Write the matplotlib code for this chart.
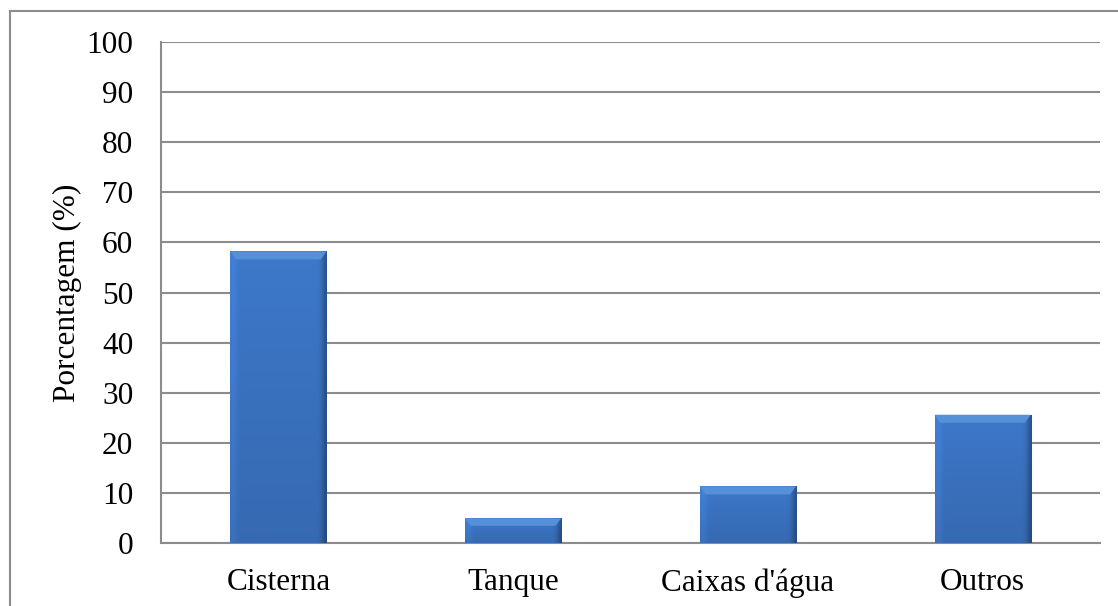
import numpy as np
import matplotlib.pyplot as plt
from matplotlib.patches import Rectangle

categories = ["Cisterna", "Tanque", "Caixas d'água", "Outros"]
values = [58.2, 4.9, 11.3, 25.6]
yticks = [0, 10, 20, 30, 40, 50, 60, 70, 80, 90, 100]

plt.rcParams["font.family"] = ["Liberation Serif", "DejaVu Serif"]

W, H = 1118, 606
fig = plt.figure(figsize=(W / 100, H / 100), dpi=100)
ax = fig.add_axes([161 / W, (H - 543) / H, (1100 - 161) / W, (543 - 42) / H])

# outer chart frame (cut off at the right and bottom in the reference)
fig.patches.append(Rectangle((10 / W, -0.1), 1.2, (H - 11) / H + 0.1,
                             transform=fig.transFigure, fill=False,
                             edgecolor="#8c8c8c", linewidth=1.5, zorder=0))

x = np.arange(len(categories))
bars = ax.bar(x, values, width=0.41, color="#3a73bd", zorder=3)


def bar_shade(nx, ny):
    # horizontal profile: light left edge, dark right edge
    u = np.linspace(0, 1, nx)
    v = np.linspace(0, 1, ny)
    base = np.array([0.24, 0.47, 0.79])
    hprof = 1.0 + 0.08 * np.exp(-((u - 0.03) / 0.04) ** 2) - 0.30 * np.exp(-((1 - u) / 0.05) ** 2)
    vprof = 1.0 - 0.12 * v  # darker towards the bottom (v=1 at bottom)
    img = base[None, None, :] * hprof[None, :, None] * vprof[:, None, None]
    return np.clip(img, 0, 1)


for b in bars:
    bx, by, bw, bh = b.get_x(), b.get_y(), b.get_width(), b.get_height()
    img = bar_shade(200, 300)
    im = ax.imshow(img, extent=[bx, bx + bw, by, by + bh], aspect="auto",
                   origin="upper", zorder=4, interpolation="bilinear")
    im.set_clip_path(b)
    # bevel at the top
    bev = min(1.6, bh * 0.3)
    ax.fill([bx, bx + bw, bx + bw - 0.025, bx + 0.025],
            [by + bh, by + bh, by + bh - bev, by + bh - bev],
            color="#5590d8", zorder=5, linewidth=0)

ax.set_xlim(-0.5, len(categories) - 0.5)
ax.set_ylim(0, 100)
ax.set_yticks(yticks)
ax.set_xticks(x)
ax.set_xticklabels(categories)
ax.tick_params(axis="y", length=0, pad=20, labelsize=22.5)
ax.tick_params(axis="x", length=0, pad=18, labelsize=22.5)
ax.yaxis.grid(True, color="#8c8c8c", linewidth=1.5, zorder=1)
ax.set_axisbelow(True)
for s in ["top", "right"]:
    ax.spines[s].set_visible(False)
for s in ["left", "bottom"]:
    ax.spines[s].set_color("#8c8c8c")
    ax.spines[s].set_linewidth(1.5)
ax.set_ylabel("Porcentagem (%)", fontsize=22.5, labelpad=3)

fig.savefig("out.png", dpi=100)
